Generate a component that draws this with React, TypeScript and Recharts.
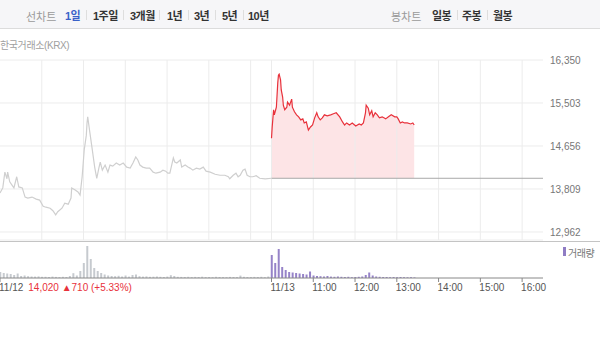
import React from 'react';
import {
  ComposedChart, Line, Area, Bar, XAxis, YAxis, CartesianGrid, ReferenceLine
} from 'recharts';

// 11/12 intraday (09:00 ~ 15:30)
const prevTimes = [
  '09:00', '09:04', '09:07', '09:10', '09:11', '09:14', '09:17', '09:20', '09:24', '09:27',
  '09:32', '09:36', '09:40', '09:46', '09:52', '09:57', '10:02', '10:06', '10:12', '10:16',
  '10:20', '10:23', '10:29', '10:33', '10:38', '10:42', '10:43', '10:48', '10:52', '10:55',
  '10:58', '11:01', '11:04', '11:05', '11:06', '11:08', '11:09', '11:12', '11:16', '11:19',
  '11:22', '11:24', '11:27', '11:31', '11:35', '11:38', '11:42', '11:47', '11:52', '11:57',
  '12:02', '12:07', '12:11', '12:15', '12:18', '12:21', '12:25', '12:30', '12:35', '12:40',
  '12:44', '12:50', '12:54', '12:58', '13:01', '13:04', '13:09', '13:11', '13:14', '13:19',
  '13:21', '13:26', '13:30', '13:33', '13:37', '13:42', '13:47', '13:52', '13:56', '14:02',
  '14:09', '14:16', '14:23', '14:28', '14:30', '14:35', '14:39', '14:42', '14:45', '14:49',
  '14:52', '14:55', '14:59', '15:03', '15:08', '15:13', '15:21', '15:30',
];
const prevPrices = [
  13730, 13830, 14140, 14010, 14140, 13950, 13890, 13830, 14050, 13850,
  13830, 13650, 13630, 13650, 13610, 13590, 13470, 13450, 13430, 13380,
  13300, 13360, 13430, 13530, 13510, 13630, 13830, 13790, 13750, 13690,
  14050, 14580, 14870, 15110, 15230, 15030, 14930, 14640, 14240, 14020,
  14220, 14340, 14180, 14280, 14140, 14280, 14260, 14320, 14280, 14320,
  14240, 14220, 14320, 14440, 14380, 14280, 14240, 14220, 14220, 14140,
  14120, 14140, 14180, 14160, 14120, 14120, 14420, 14340, 14320, 14380,
  14240, 14280, 14240, 14220, 14180, 14220, 14200, 14240, 14160, 14140,
  14100, 14080, 14080, 14050, 14010, 14080, 14120, 14050, 14080, 14180,
  14200, 14080, 14050, 14050, 14070, 14020, 14010, 14020,
];

// 11/13 intraday (opens 10:00)
const curTimes = [
  '10:00', '10:01', '10:03', '10:04', '10:06', '10:07', '10:09', '10:10', '10:11', '10:13',
  '10:14', '10:16', '10:17', '10:19', '10:22', '10:23', '10:26', '10:27', '10:29', '10:30',
  '10:33', '10:36', '10:39', '10:42', '10:45', '10:47', '10:50', '10:53', '10:56', '10:59',
  '11:02', '11:05', '11:07', '11:10', '11:13', '11:16', '11:20', '11:25', '11:29', '11:33',
  '11:38', '11:42', '11:45', '11:48', '11:52', '11:56', '12:01', '12:06', '12:09', '12:12',
  '12:15', '12:16', '12:19', '12:21', '12:24', '12:26', '12:29', '12:32', '12:35', '12:39',
  '12:44', '12:48', '12:52', '12:57', '13:00', '13:02', '13:05', '13:08', '13:11', '13:15',
  '13:20', '13:23', '13:25',
];
const curPrices = [
  14810, 15030, 15370, 15270, 15370, 15420, 15900, 16050, 16070, 15960,
  15760, 15620, 15460, 15370, 15420, 15520, 15460, 15500, 15580, 15420,
  15330, 15270, 15230, 15170, 15190, 15110, 15130, 14970, 15030, 15070,
  15210, 15310, 15230, 15170, 15210, 15270, 15250, 15270, 15290, 15310,
  15230, 15130, 15070, 15110, 15070, 15110, 15050, 15090, 15070, 15110,
  15310, 15460, 15400, 15270, 15350, 15230, 15310, 15270, 15210, 15230,
  15190, 15230, 15270, 15230, 15230, 15190, 15110, 15130, 15110, 15110,
  15090, 15110, 15070,
];

const prevClose = 14020;
const priceTicks = [16350, 15503, 14656, 13809, 12962];

// volume in 5-minute buckets (thousand shares)
const prevVolume = [
  60, 50, 45, 40, 30, 45, 20, 25, 18, 15, 14, 16, 12, 12, 10, 14, 11, 9, 12, 10,
  20, 48, 25, 70, 150, 320, 190, 100, 70, 50, 35, 25, 20, 18, 22, 15, 25, 14, 30, 35,
  18, 14, 16, 12, 13, 15, 12, 10, 14, 28, 20, 12, 11, 10, 12, 9, 11, 10, 13, 9,
  10, 8, 12, 10, 9, 8, 11, 10, 9, 24, 12, 10, 9, 11, 10, 12, 8, 15,
];
const curVolume = [
  230, 150, 290, 110, 80, 60, 55, 50, 45, 40, 35, 65, 25, 20, 18, 15, 20, 14, 12, 15,
  12, 10, 12, 8, 10, 12, 15, 30, 55, 25, 15, 12, 10, 10, 8, 10, 8, 10, 8, 7,
  8, 6,
];

const gridTicks = [60, 120, 180, 240, 300, 360, 390, 450, 510, 570, 630, 690, 750];
const dateTicks = [0, 390, 450, 510, 570, 630, 690, 750];
const dateLabels = ['11/12', '11/13', '11:00', '12:00', '13:00', '14:00', '15:00', '16:00'];
const prevSummary = '14,020 ▲710 (+5.33%)';

const lineMenu = ['1일', '1주일', '3개월', '1년', '3년', '5년', '10년'];
const lineMenuX = [65, 93, 130, 167, 194, 222, 248];
const candleMenu = ['일봉', '주봉', '월봉'];
const candleMenuX = [432, 462, 493];

const toMin = (s: string) => {
  const [h, m] = s.split(':').map(Number);
  return h * 60 + m;
};

const priceData = [
  ...prevTimes.map((t, i) => ({ t: toMin(t) - 540, prev: prevPrices[i] })),
  ...curTimes.map((t, i) => ({ t: 390 + toMin(t) - 600, cur: curPrices[i] })),
];

const volumeData = [
  ...prevVolume.map((v, i) => ({ t: i * 5, v1: v })),
  ...curVolume.map((v, i) => ({ t: 390 + i * 5, v2: v })),
];

const DateTick = (props: any) => {
  const { x, y, payload } = props;
  const idx = dateTicks.indexOf(payload.value);
  return (
    <text x={x - 1} y={y} dy="0.71em" fontSize={10} textAnchor="start" fill="#555">
      <tspan>{dateLabels[idx]}</tspan>
      {idx === 0 && <tspan dx={5} fill="#e8313b">{prevSummary}</tspan>}
    </text>
  );
};

const sep = (x: number) => (
  <div key={'s' + x} style={{ position: 'absolute', left: x, top: 10, width: 1, height: 10, background: '#dedede' }} />
);

export default function App() {
  return (
    <div style={{
      position: 'absolute', left: 0, top: 0, width: 600, height: 346, background: '#fff',
      fontFamily: "'Liberation Sans', 'Noto Sans CJK KR', sans-serif", overflow: 'hidden',
    }}>
      <div style={{ position: 'absolute', left: 0, top: 0, width: 600, height: 28, background: '#f6f6f8', borderBottom: '1px solid #dcdcdc' }} />
      <div style={{ position: 'absolute', left: 26, top: 8, fontSize: 11, color: '#9a9a9a' }}>선차트</div>
      {lineMenu.map((m, i) => (
        <div key={m} style={{
          position: 'absolute', left: lineMenuX[i], top: 7, fontSize: 11, fontWeight: 700,
          color: i === 0 ? '#3a62c8' : '#333', letterSpacing: -0.5,
        }}>{m}</div>
      ))}
      {[86, 123, 159, 188, 215, 243].map(sep)}
      <div style={{ position: 'absolute', left: 391, top: 8, fontSize: 11, color: '#9a9a9a' }}>봉차트</div>
      {candleMenu.map((m, i) => (
        <div key={m} style={{
          position: 'absolute', left: candleMenuX[i], top: 7, fontSize: 11, fontWeight: 700, color: '#333', letterSpacing: -0.5,
        }}>{m}</div>
      ))}
      {[457, 487].map(sep)}

      <div style={{ position: 'absolute', left: 0, top: 37, fontSize: 10, color: '#a0a0a0', letterSpacing: -0.4 }}>한국거래소(KRX)</div>

      <div style={{ position: 'absolute', left: 0, top: 0 }}>
        <ComposedChart width={600} height={241} data={priceData} margin={{ top: 60, right: 0, left: 0, bottom: 1 }}>
          <CartesianGrid stroke="#ececec" vertical={false} />
          <XAxis
            dataKey="t" type="number" domain={[0, 780]} ticks={gridTicks}
            tick={false} axisLine={false} tickLine={false} height={0}
          />
          <YAxis
            orientation="right" domain={[12804, 16350]} ticks={priceTicks} allowDataOverflow
            width={57} axisLine={false} tickLine={false} tickSize={0} tickMargin={7}
            tick={{ fontSize: 10, fill: '#777', textAnchor: 'start' }}
            tickFormatter={(v: number) => v.toLocaleString('en-US')}
          />
          {gridTicks.map((g) => (
            <ReferenceLine key={g} x={g} stroke="#ececec" />
          ))}
          <Area
            type="linear" dataKey="cur" baseValue={prevClose} stroke="none" fill="#fde4e6" fillOpacity={1}
            isAnimationActive={false}
          />
          <ReferenceLine segment={[{ x: 390, y: prevClose }, { x: 780, y: prevClose }]} stroke="#a8a8a8" />
          <Line type="linear" dataKey="prev" stroke="#cfcfcf" strokeWidth={1.2} dot={false} isAnimationActive={false} />
          <Line type="linear" dataKey="cur" stroke="#e8313b" strokeWidth={1.2} dot={false} isAnimationActive={false} />
        </ComposedChart>
      </div>

      <div style={{ position: 'absolute', left: 0, top: 241, width: 600, height: 1, background: '#c4c4c4' }} />
      <div style={{ position: 'absolute', left: 563, top: 247, width: 3, height: 9, background: '#8f7cc4' }} />
      <div style={{ position: 'absolute', left: 568, top: 245, fontSize: 10, color: '#777', letterSpacing: -0.5 }}>거래량</div>

      <div style={{ position: 'absolute', left: 0, top: 241 }}>
        <ComposedChart width={600} height={59} data={volumeData} margin={{ top: 1, right: 57, left: 0, bottom: 0 }}>
          <XAxis
            dataKey="t" type="number" domain={[0, 780]} ticks={dateTicks} interval={0}
            height={22} stroke="#888" tickSize={4} tickMargin={2} tick={<DateTick />}
          />
          <YAxis hide domain={[0, 360]} allowDataOverflow />
          <Bar dataKey="v1" stackId="v" fill="#c6cacf" barSize={2} isAnimationActive={false} />
          <Bar dataKey="v2" stackId="v" fill="#9683c8" barSize={2} isAnimationActive={false} />
        </ComposedChart>
      </div>
    </div>
  );
}
